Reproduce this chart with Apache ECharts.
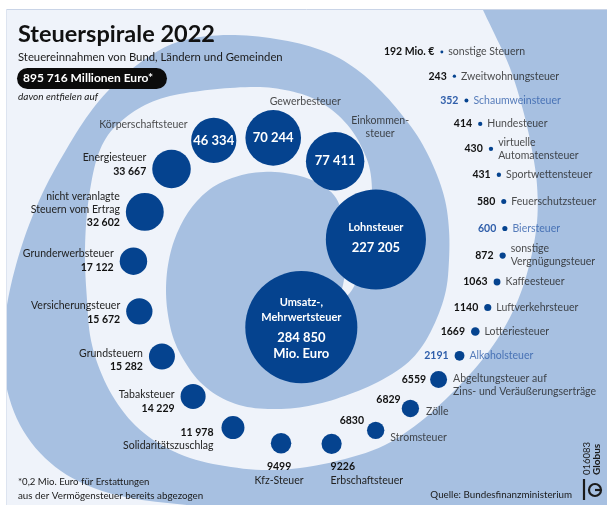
<!DOCTYPE html>
<html>
<head>
<meta charset="utf-8">
<script src="https://cdn.jsdelivr.net/npm/echarts@6/dist/echarts.min.js"></script>
<style>html,body{margin:0;padding:0;background:#fff}#c{width:607px;height:505px}</style>
</head>
<body>
<div id="c"></div>
<script>
// ---- data ----
const categories = ['Umsatz-,\nMehrwertsteuer', 'Lohnsteuer', 'Einkommen-\nsteuer', 'Gewerbesteuer', 'Körperschaftsteuer', 'Energiesteuer', 'nicht veranlagte\nSteuern vom Ertrag', 'Grunderwerbsteuer', 'Versicherungsteuer', 'Grundsteuern', 'Tabaksteuer', 'Solidaritätszuschlag', 'Kfz-Steuer', 'Erbschaftsteuer', 'Stromsteuer', 'Zölle', 'Abgeltungsteuer auf\nZins- und Veräußerungserträge', 'Alkoholsteuer', 'Lotteriesteuer', 'Luftverkehrsteuer', 'Kaffeesteuer', 'sonstige\nVergnügungsteuer', 'Biersteuer', 'Feuerschutzsteuer', 'Sportwettensteuer', 'virtuelle\nAutomatensteuer', 'Hundesteuer', 'Schaumweinsteuer', 'Zweitwohnungsteuer', 'sonstige Steuern'];
const values = [284850, 227205, 77411, 70244, 46334, 33667, 32602, 17122, 15672, 15282, 14229, 11978, 9499, 9226, 6830, 6829, 6559, 2191, 1669, 1140, 1063, 872, 600, 580, 431, 430, 414, 352, 243, 192];
const highlighted = ['Alkoholsteuer', 'Biersteuer', 'Schaumweinsteuer'];
const totalText = '895 716 Millionen Euro*';
const unitText = 'Mio. Euro';
const smallUnit = ' Mio. €';

// ---- styling / layout constants ----
const W = 607, H = 505;
const LIGHT = '#a7c0e1', PALE = '#eff3fa', DARK = '#05438f', HL = '#2f5eaa';
const FONT = 'Lato';
const SIZE_K = 0.105; // radius = K * sqrt(value)

// spiral guide (decorative layout path) around a centre
const C = [284, 290];
const guide = [[-65,41],[29,105],[70,140],[95,153],[118,167],[135,165],[170,153],[208,139],[230,140],[268,153],[304,168],[331,179],[349,197],[362,213],[382,237],[402,259],[408,265],[417,287],[440,320]];
function R(phi){
  for (let i=0;i<guide.length-1;i++){
    const a=guide[i], b=guide[i+1];
    if (phi<=b[0]) { const t=(phi-a[0])/(b[0]-a[0]); return a[1]+t*(b[1]-a[1]); }
  }
  return guide[guide.length-1][1];
}
function P(phi){ const a=phi*Math.PI/180, r=R(phi); return [C[0]+r*Math.cos(a), C[1]-r*Math.sin(a)]; }
const radii = values.map(v => SIZE_K*Math.sqrt(v));
function spacing(r1, r2){
  const ra=(r1+r2)/2; let base;
  if (ra>=10) base=50.5;
  else if (ra>=8.7) base=41+(ra-8.7)/1.3*9.5;
  else if (ra>=6.8) base=31.6+(ra-6.8)/1.9*9.4;
  else if (ra>=4) base=28+(ra-4)/2.8*3.6;
  else base=27;
  return Math.max(r1+r2+9, base);
}
const pos=[]; let phi=-65; pos.push(P(phi));
for (let i=1;i<values.length;i++){
  const d=spacing(radii[i-1], radii[i]); const prev=pos[i-1]; let p;
  while (true){ phi+=0.05; p=P(phi); if (Math.hypot(p[0]-prev[0], p[1]-prev[1])>=d || phi>460) break; }
  pos.push(p);
}

// background spiral (decoration)
const spiralInner = [[335,305],[343,285],[346,255],[344,222],[336,198],[320,184],[300,176],[275,172],[252,173],[232,178],[213,187],[197,201],[184,219],[174,241],[168,265],[166,290],[168,315],[174,340],[185,362],[200,382],[220,397],[243,406],[268,409],[295,408],[322,403],[350,394],[378,382],[405,365],[423,345],[437,318],[446,290],[449,260],[449,230],[445,200],[435,170],[420,140],[402,115],[382,92],[360,72],[335,56],[305,45],[270,38],[235,35],[200,37],[172,44],[150,56],[128,72],[106,93],[86,118],[66,150],[46,186],[29,225],[16,265],[7,305],[3,345],[6,385],[20,425],[45,458],[80,482],[130,498],[210,508],[260,520]];
const spiralOuter = [[335,305],[352,290],[362,262],[369,230],[372,198],[370,170],[362,148],[350,128],[332,110],[310,97],[285,90],[260,87],[230,88],[200,91],[170,96],[145,105],[125,118],[108,135],[97,158],[90,190],[86,225],[85,262],[87,300],[90,335],[98,365],[112,395],[132,422],[158,443],[190,458],[225,466],[262,470],[300,468],[345,459],[385,445],[420,422],[450,395],[478,365],[500,335],[518,300],[530,262],[537,222],[537,185],[532,150],[523,110],[510,68],[495,35],[483,10],[470,-20]];
function cr(pts, seg){
  const out=[];
  for (let i=0;i<pts.length-1;i++){
    const p0=pts[i-1]||pts[i], p1=pts[i], p2=pts[i+1], p3=pts[i+2]||pts[i+1];
    for (let s=0;s<seg;s++){
      const t=s/seg, t2=t*t, t3=t2*t;
      const f=k=>0.5*((2*p1[k])+(-p0[k]+p2[k])*t+(2*p0[k]-5*p1[k]+4*p2[k]-p3[k])*t2+(-p0[k]+3*p1[k]-3*p2[k]+p3[k])*t3);
      out.push([f(0),f(1)]);
    }
  }
  out.push(pts[pts.length-1]);
  return out;
}
const palePoly = cr(spiralInner,6).concat([[-120,620],[-120,-120],[470,-120]]).concat(cr(spiralOuter,6).reverse());

// ---- labels ----
const fmt = v => v>=10000 ? String(v).replace(/\B(?=(\d{3})+(?!\d))/g,' ') : String(v);
const tag = (s, t) => t.split('\n').map(l => '{'+s+'|'+l+'}').join('\n');
const RICH = {
  n:{fontFamily:FONT,fontSize:10.5,color:'#222',lineHeight:13},
  v:{fontFamily:FONT,fontSize:10.5,fontWeight:'bold',color:'#111',lineHeight:14},
  nh:{fontFamily:FONT,fontSize:10.5,color:HL,lineHeight:13},
  vh:{fontFamily:FONT,fontSize:10.5,fontWeight:'bold',color:HL,lineHeight:14},
  w1:{fontFamily:FONT,fontSize:11,fontWeight:'bold',color:'#fff',lineHeight:15},
  w2:{fontFamily:FONT,fontSize:13,fontWeight:'bold',color:'#fff',lineHeight:16},
  wg:{fontSize:4,lineHeight:5},
  wv:{fontFamily:FONT,fontSize:13,fontWeight:'bold',color:'#fff',lineHeight:16}
};
const L = (text, dx, dy, align) => ({show:true, position:'inside', offset:[dx,dy], align:align, verticalAlign:'middle', formatter:text, rich:RICH});
function specs(i){
  const r=radii[i], cat=categories[i];
  const hl=highlighted.includes(cat.replace('\n',' '));
  const nS=hl?'nh':'n', vS=hl?'vh':'v';
  const vt=fmt(values[i])+(i===values.length-1?smallUnit:'');
  let val=null, nam=null;
  if (i===0) val=L(tag('w1',cat)+'\n{wg| }\n'+tag('w2',fmt(values[i])+'\n'+unitText),0,1,'center');
  else if (i===1) val=L(tag('w1',cat)+'\n{wg| }\n'+tag('w2',fmt(values[i])),0,-2,'center');
  else if (i<=4){
    val=L(tag('wv',vt),0,0,'center');
    if (i===2) nam=L(tag(nS,cat),45,-34,'center');
    else if (i===3) nam=L(tag(nS,cat),32,-36,'center');
    else nam=L(tag(nS,cat),-(r+3.5),-16,'right');
  }
  else if (i<=10) val=L(tag(nS,cat)+'\n'+tag(vS,vt),-(r+6),-4+(i-5)*1.9,'right');
  else if (i===11) val=L(tag(vS,vt)+'\n'+tag(nS,cat),-(r+8),11.5,'right');
  else if (i===12) val=L(tag(vS,vt)+'\n'+tag(nS,cat),-2,30,'center');
  else if (i===13) val=L(tag(vS,vt)+'\n'+tag(nS,cat),-1,29.5,'left');
  else if (i===14){ val=L(tag(vS,vt),-(r+3),-10,'right'); nam=L(tag(nS,cat),r+6,7,'left'); }
  else if (i===15){ val=L(tag(vS,vt),-(r+1),-9,'right'); nam=L(tag(nS,cat),r+7,3,'left'); }
  else if (i===16){ val=L(tag(vS,vt),-(r+4),0,'right'); nam=L(tag(nS,cat),r+6,6,'left'); }
  else { val=L(tag(vS,vt),-(r+6),0,'right'); nam=L(tag(nS,cat),r+5,0,'left'); }
  return {val, nam};
}
const bubbleData=[], nameData=[];
values.forEach((v,i)=>{
  const s=specs(i);
  bubbleData.push({name:categories[i], value:[pos[i][0],pos[i][1],v], symbolSize:2*radii[i], label:s.val||{show:false}});
  nameData.push({name:categories[i], value:[pos[i][0],pos[i][1],v], symbolSize:2*radii[i], label:s.nam||{show:false}});
});

const txt = (x,y,text,st,extra) => Object.assign({type:'text', x:x, y:y, z:20, style:Object.assign({text:text, fontFamily:FONT, fontSize:10, fill:'#1a1a1a', align:'left', verticalAlign:'middle'}, st)}, extra||{});

const chart = echarts.init(document.getElementById('c'), null, {renderer:'canvas'});
chart.setOption({
  animation:false,
  backgroundColor:'#ffffff',
  textStyle:{fontFamily:FONT},
  grid:{left:0,right:0,top:0,bottom:0},
  xAxis:{type:'value',min:0,max:W,show:false},
  yAxis:{type:'value',min:0,max:H,inverse:true,show:false},
  graphic:[
    {type:'rect', z:0, shape:{x:6,y:9,width:W-6,height:H-9}, style:{fill:LIGHT}},
    {type:'polygon', z:1, shape:{points:palePoly}, style:{fill:PALE}},
    {type:'rect', z:2, shape:{x:0,y:0,width:W,height:9}, style:{fill:'#fff'}},
    {type:'rect', z:2, shape:{x:0,y:0,width:6,height:H}, style:{fill:'#fff'}},
    {type:'line', z:3, shape:{x1:6,y1:9.5,x2:W,y2:9.5}, style:{stroke:'#c9d4e7',lineWidth:1}},
    {type:'line', z:3, shape:{x1:6.5,y1:9,x2:6.5,y2:H}, style:{stroke:'#dde4f0',lineWidth:1}},
    txt(18,34,'Steuerspirale 2022',{fontSize:23.5,fontWeight:'bold',fill:'#111'}),
    txt(18,57,'Steuereinnahmen von Bund, Ländern und Gemeinden',{fontSize:11.3}),
    {type:'rect', z:19, shape:{x:17,y:68,width:150,height:21,r:10.5}, style:{fill:'#0b0b0b'}},
    txt(23,78.5,totalText,{fontSize:12,fontWeight:'bold',fill:'#fff'}),
    txt(18,97,'davon entfielen auf',{fontSize:10,fontStyle:'italic'}),
    txt(18,482,'*0,2 Mio. Euro für Erstattungen',{fontSize:9.6}),
    txt(18,496,'aus der Vermögensteuer bereits abgezogen',{fontSize:9.8}),
    txt(572,495,'Quelle: Bundesfinanzministerium',{fontSize:9.8,align:'right'}),
    txt(587,475,'016083',{fontSize:9.5}, {rotation:Math.PI/2}),
    txt(597,475,'Globus',{fontSize:10,fontWeight:'bold'}, {rotation:Math.PI/2}),
    {type:'circle', z:20, shape:{cx:595,cy:490,r:6}, style:{fill:'none',stroke:'#1a1a1a',lineWidth:2.2}},
    {type:'line', z:20, shape:{x1:584,y1:479,x2:584,y2:500}, style:{stroke:'#1a1a1a',lineWidth:2.2}},
    {type:'line', z:20, shape:{x1:595,y1:490,x2:601,y2:490}, style:{stroke:'#1a1a1a',lineWidth:2.2}}
  ],
  series:[
    {type:'scatter', name:'Steuern', z:5, data:bubbleData, itemStyle:{color:DARK, opacity:1}, emphasis:{disabled:true}, silent:true},
    {type:'scatter', name:'Namen', z:6, data:nameData, itemStyle:{color:'rgba(0,0,0,0)'}, emphasis:{disabled:true}, silent:true}
  ]
});
</script>
</body>
</html>
